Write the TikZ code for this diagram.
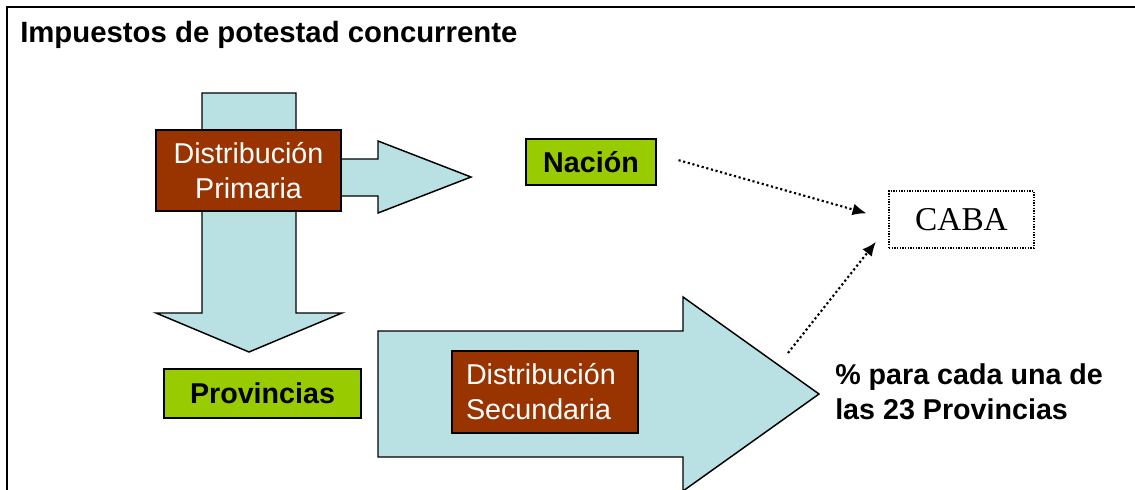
\documentclass[tikz,border=0pt]{standalone}
\usepackage{fontspec}
\setmainfont{Liberation Sans}
\newfontfamily\seriffont{Liberation Serif}
\usetikzlibrary{arrows.meta}
\usetikzlibrary{positioning}
\definecolor{celeste}{RGB}{185,224,227}
\definecolor{ladrillo}{RGB}{153,51,0}
\definecolor{verde}{RGB}{153,204,0}

\begin{document}
\begin{tikzpicture}[x=0.75pt, y=-0.75pt,
	flecha/.style={draw=black, line width=1.1pt, fill=celeste, line join=miter},
	caja/.style={draw=black, line width=1.1pt, fill=ladrillo, text=white, inner sep=0pt, font=\fontsize{21.5}{26.25}\selectfont},
	etiqueta/.style={draw=black, line width=1.1pt, fill=verde, inner sep=0pt, font=\bfseries\fontsize{21.5}{26.25}\selectfont},
	punteada/.style={line width=1.6pt, dash pattern=on 1.6pt off 2pt, -{Latex[length=10.5pt, width=9pt]}}]

			\clip (0,0) rectangle (1135,489);
			\draw[line width=1.3pt] (7,7) rectangle (1150,500);

			\node[anchor=base west, inner sep=0pt, font=\bfseries\fontsize{22}{26}\selectfont] (titulo) at (20,42) {Impuestos de potestad concurrente};

			\draw[flecha] (202,93) -- (296,93) -- (296,313) -- (342,313) -- (249,352) -- (156,313) -- (202,313) -- cycle;
			\draw[flecha] (320,159) -- (378,159) -- (378,141) -- (471,177) -- (378,213) -- (378,196) -- (320,196) -- cycle;
			\draw[flecha] (378,331) -- (683,331) -- (683,297) -- (819,394) -- (683,491) -- (683,457) -- (378,457) -- cycle;

			\node[caja, minimum width=138.75pt, minimum height=60.75pt, align=center] (primaria) at (248.5,170.5) {Distribución\\Primaria};
			\node[etiqueta, minimum width=97.5pt, minimum height=34.5pt] (nacion) at (591,162) {Nación};
			\node[etiqueta, minimum width=147.75pt, minimum height=36.75pt] (provincias) at (262.5,393.5) {Provincias};
			\node[caja, minimum height=61.5pt, text width=118.5pt, inner xsep=10.5pt, align=left] (secundaria) at (545,392) {Distribución\\Secundaria};
			\node[draw, line width=1pt, dash pattern=on 1pt off 1pt, minimum width=108.75pt, minimum height=42.75pt, font=\seriffont\fontsize{25}{30}\selectfont] (caba) at (961.5,219.5) {CABA};
			\node[anchor=west, align=left, inner sep=0pt, font=\bfseries\fontsize{21.5}{26.25}\selectfont] (reparto) at (835,392) {\% para cada una de\\las 23 Provincias};

			\coordinate (arranque) at (788,353);
			\draw[punteada, shorten <=17pt, shorten >=17pt] ([yshift=6pt]nacion.east) -- (caba.west);
			\draw[punteada, shorten >=15pt] (arranque) -- ([yshift=-5pt]caba.west);
		\end{tikzpicture}
\end{document}
